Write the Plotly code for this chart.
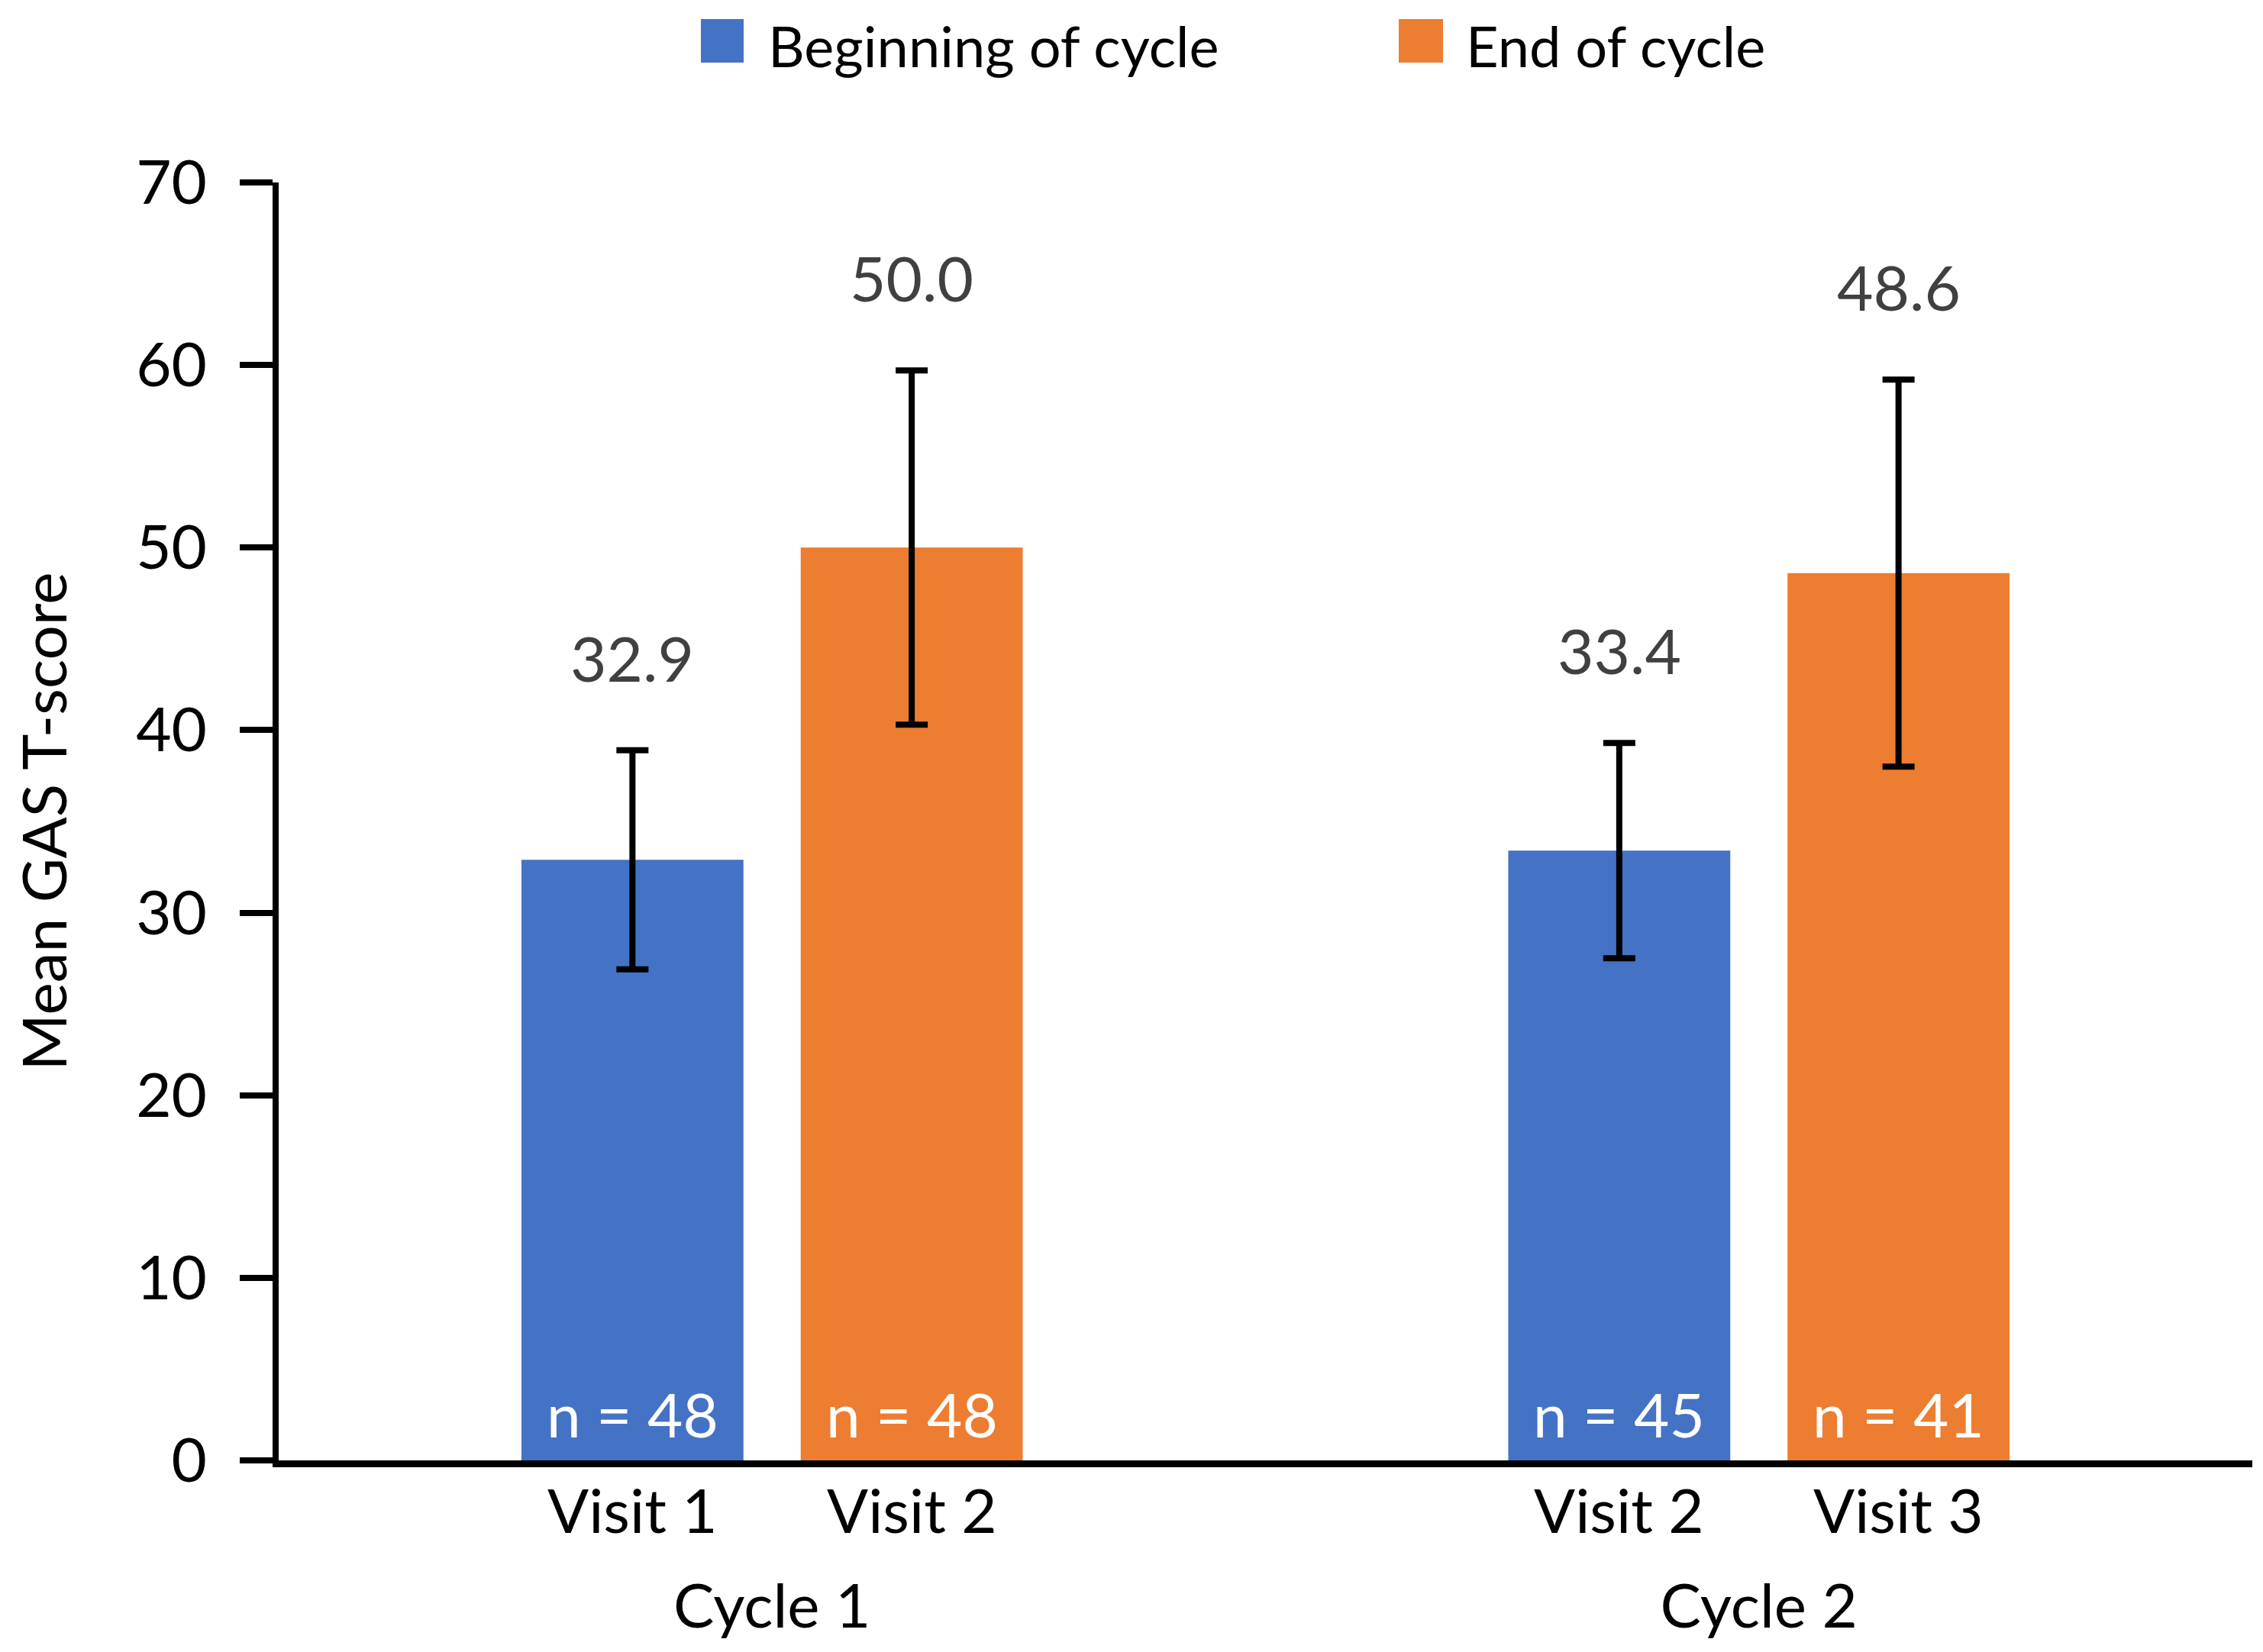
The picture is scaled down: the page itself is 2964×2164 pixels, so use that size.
import plotly.graph_objects as go


# data
CYCLES = ["Cycle 1", "Cycle 2"]
SERIES = ["Beginning of cycle", "End of cycle"]
VISITS_BEGIN = ["Visit 1", "Visit 2"]
VISITS_END = ["Visit 2", "Visit 3"]
MEAN_BEGIN = [32.9, 33.4]
MEAN_END = [50.0, 48.6]
ERR_BEGIN = [6.0, 5.9]
ERR_END = [9.7, 10.6]
N_BEGIN = [48, 45]
N_END = [48, 41]
Y_TICKS = [0, 10, 20, 30, 40, 50, 60, 70]

COLORS = ["#4472C4", "#ED7D31"]
FONT = "Lato, 'Open Sans', sans-serif"

# the page body adds an 8 px margin, so the figure is 8 px smaller each way
PAGE_PAD = 8
WIDTH, HEIGHT = 2964 - PAGE_PAD, 2164 - PAGE_PAD
MARGIN = dict(l=357, r=14, t=231, b=251)
BARGAP = 0.434
BARGROUPGAP = 0.205


def _px_to_paper(x_px, y_px):
    # screen pixel -> paper coordinates
    x_px -= PAGE_PAD
    y_px -= PAGE_PAD
    pw = WIDTH - MARGIN["l"] - MARGIN["r"]
    ph = HEIGHT - MARGIN["t"] - MARGIN["b"]
    return (x_px - MARGIN["l"]) / pw, (HEIGHT - MARGIN["b"] - y_px) / ph


fig = go.Figure()

series_data = [
    (SERIES[0], MEAN_BEGIN, ERR_BEGIN, N_BEGIN, VISITS_BEGIN, COLORS[0]),
    (SERIES[1], MEAN_END, ERR_END, N_END, VISITS_END, COLORS[1]),
]

for name, means, errs, ns, visits, color in series_data:
    fig.add_trace(
        go.Bar(
            x=CYCLES,
            y=means,
            name=name,
            marker=dict(color=color, line=dict(width=0)),
            error_y=dict(
                type="data",
                array=errs,
                visible=True,
                color="black",
                thickness=8,
                width=21,
            ),
            showlegend=False,
        )
    )

# offsets of the two bars inside each cluster
slot = (1 - BARGAP) / 2
offsets = [-slot / 2, slot / 2]

for k, (name, means, errs, ns, visits, color) in enumerate(series_data):
    for i, cyc in enumerate(CYCLES):
        xpos = i + offsets[k]
        # value label above the error bar
        fig.add_annotation(
            x=xpos, y=means[i] + errs[i], xref="x", yref="y",
            text=f"{means[i]:.1f}", showarrow=False,
            yanchor="middle", yshift=122,
            font=dict(family=FONT, size=82, color="#404040"),
        )
        # n inside the bar
        fig.add_annotation(
            x=xpos, y=0, xref="x", yref="y",
            text=f"n = {ns[i]}", showarrow=False,
            yanchor="middle", yshift=61,
            font=dict(family=FONT, size=80, color="white"),
        )
        # visit label under the axis
        fig.add_annotation(
            x=xpos, y=0, xref="x", yref="y",
            text=visits[i], showarrow=False,
            yanchor="middle", yshift=-64,
            font=dict(family=FONT, size=80, color="black"),
        )

# legend drawn by hand so the swatches can be as big as the original
legend_items = [(918, 974, 1004), (1832, 1890, 1918)]
for (x0, x1, xt), name, color in zip(legend_items, SERIES, COLORS):
    px0, py0 = _px_to_paper(x0, 82)
    px1, py1 = _px_to_paper(x1, 25)
    fig.add_shape(
        type="rect", xref="paper", yref="paper",
        x0=px0, x1=px1, y0=py0, y1=py1,
        fillcolor=color, line=dict(width=0),
    )
    tx, ty = _px_to_paper(xt, 60)
    fig.add_annotation(
        x=tx, y=ty, xref="paper", yref="paper",
        text=name, showarrow=False,
        xanchor="left", yanchor="middle",
        font=dict(family=FONT, size=74, color="black"),
    )

fig.update_layout(
    width=WIDTH,
    height=HEIGHT,
    margin=MARGIN,
    paper_bgcolor="white",
    plot_bgcolor="white",
    barmode="group",
    bargap=BARGAP,
    bargroupgap=BARGROUPGAP,
    font=dict(family=FONT, size=80, color="black"),
    showlegend=False,
)

fig.update_xaxes(
    type="category",
    range=[-0.5, 1.5],
    automargin=False,
    showline=True,
    linecolor="black",
    linewidth=9,
    ticks="",
    showgrid=False,
    zeroline=False,
    ticklabelstandoff=114,
    tickfont=dict(family=FONT, size=80, color="black"),
)

fig.update_yaxes(
    range=[0, 70],
    tickvals=Y_TICKS,
    automargin=False,
    showline=True,
    linecolor="black",
    linewidth=8,
    ticks="outside",
    ticklen=43,
    tickwidth=8,
    tickcolor="black",
    showgrid=False,
    zeroline=False,
    ticklabelstandoff=27,
    tickfont=dict(family=FONT, size=80, color="black"),
    title=dict(
        text="Mean GAS T-score",
        standoff=100,
        font=dict(family=FONT, size=80, color="black"),
    ),
)

fig.write_html("out.html")
